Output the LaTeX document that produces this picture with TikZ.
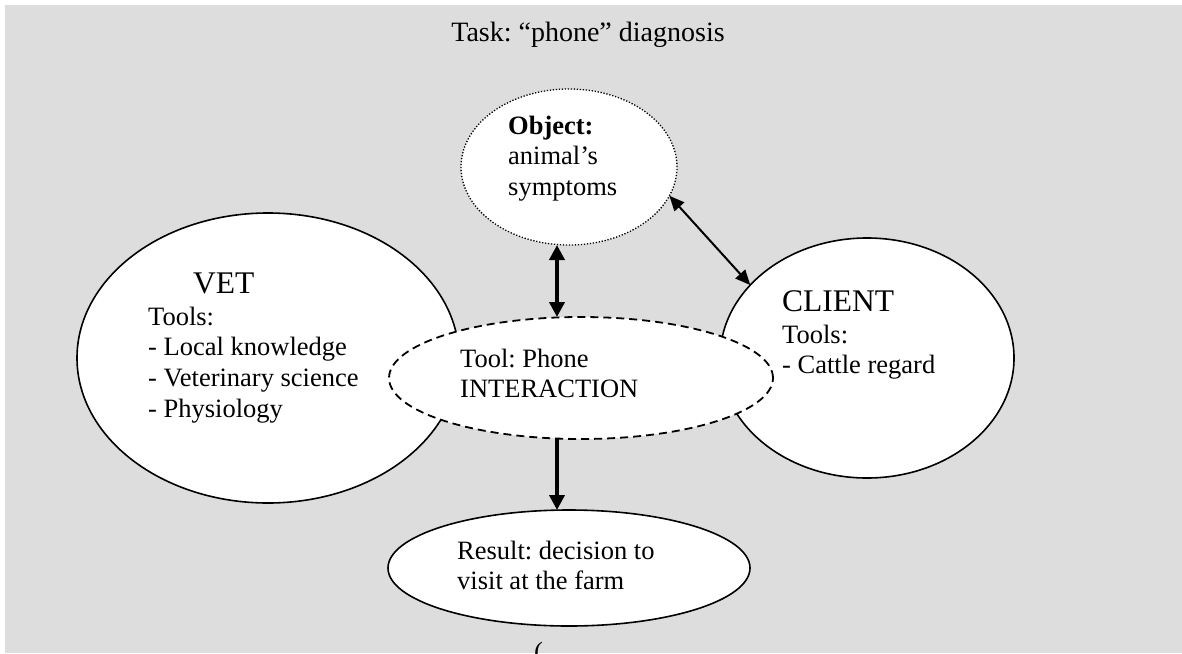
\documentclass[tikz,border=0pt]{standalone}
\usepackage{fontspec}
\setmainfont{Liberation Serif}
\frenchspacing
\usetikzlibrary{arrows.meta,shapes.geometric}
\definecolor{panel}{RGB}{221,221,221}
\tikzset{
  bubble/.style={ellipse, draw=black, line width=1.6pt, fill=white, inner sep=0pt, outer sep=0pt},
  dotbubble/.style={bubble, line width=1.3pt, dash pattern={on 1.3pt off 1.7pt}},
  dashbubble/.style={bubble, line width=1.8pt, dash pattern={on 8pt off 5pt}},
  txt/.style={anchor=base west, inner sep=0pt, font=\fontsize{26.5}{30.7}\selectfont},
  headtxt/.style={anchor=base west, inner sep=0pt, font=\fontsize{31.5}{36}\selectfont},
  boldlink/.style={line width=4pt, arrows={Triangle[length=15pt,width=15pt]-Triangle[length=15pt,width=15pt]}},
  thinlink/.style={line width=2pt, arrows={Triangle[length=15pt,width=13pt]-Triangle[length=15pt,width=13pt]}},
  flowlink/.style={line width=4pt, arrows={-Triangle[length=15pt,width=15pt]}},
}
\newcommand{\lines}[1]{\begin{tabular}[t]{@{}l@{}}#1\end{tabular}}
\begin{document}
\begin{tikzpicture}[x=1pt, y=-1pt]
  \useasboundingbox (0,0) rectangle (1182,653);
  \clip (0,0) rectangle (1182,653);
  % grey panel
  \fill[panel] (5,5) rectangle (1182,653);

  % actors, mediating tool, object and outcome
  \node[bubble, minimum width=382pt, minimum height=290pt] (vet) at (268,358) {};
  \node[bubble, minimum width=294pt, minimum height=240pt] (cl) at (867,358) {};
  \node[dashbubble, minimum width=384pt, minimum height=122pt] (ph) at (581,378) {};
  \node[dotbubble, minimum width=216pt, minimum height=156pt] (obj) at (569,167) {};
  \node[bubble, minimum width=362pt, minimum height=116pt] (res) at (569,568) {};

  % connectors
  \coordinate (ax) at (557,0);
  \draw[boldlink] (ax |- obj.south) -- (ax |- ph.north);
  \draw[thinlink] (obj.-16) -- (cl.148);
  \draw[flowlink] (ax |- ph.south) -- (ax |- res.north);

  % labels
  \node[anchor=base, inner sep=0pt, font=\fontsize{28}{32}\selectfont] (title) at (588,41) {Task: “phone” diagnosis};
  \node[txt] (objtxt) at (508,134) {\lines{\textbf{Object:}\\animal’s\\symptoms}};
  \node[headtxt] (vethead) at (193,293) {VET};
  \node[txt] (vettxt) at (148,325) {\lines{Tools:\\- Local knowledge\\- Veterinary science\\- Physiology}};
  \node[headtxt] (clhead) at (782,311) {CLIENT};
  \node[txt] (cltxt) at (782,343) {\lines{Tools:\\- Cattle regard}};
  \node[txt] (phtxt) at (460,367) {\lines{Tool: Phone\\INTERACTION}};
  \node[txt] (restxt) at (457,559) {\lines{Result: decision to\\visit at the farm}};
  \node[txt] (mark) at (534,660) {(};
\end{tikzpicture}
\end{document}
